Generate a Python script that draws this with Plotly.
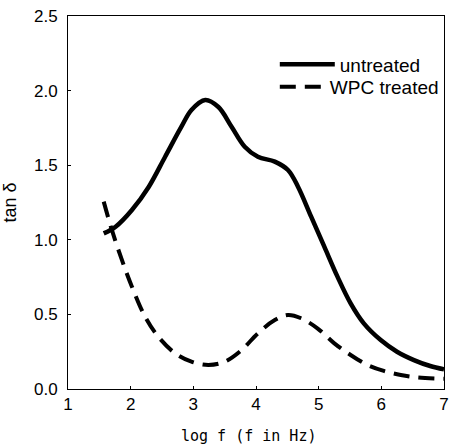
import plotly.graph_objects as go

untreated_x = [1.57, 1.76, 2.02, 2.29, 2.55, 2.81, 2.97, 3.19, 3.40, 3.61, 3.82, 4.03, 4.30, 4.51, 4.67, 4.88, 5.09, 5.30, 5.51, 5.72, 5.99, 6.25, 6.52, 6.78, 7.0]
untreated_y = [1.043, 1.088, 1.20, 1.356, 1.557, 1.758, 1.87, 1.937, 1.89, 1.758, 1.624, 1.557, 1.524, 1.468, 1.356, 1.155, 0.954, 0.753, 0.574, 0.44, 0.328, 0.25, 0.194, 0.154, 0.132]

treated_x = [1.57, 1.70, 1.86, 2.02, 2.23, 2.44, 2.71, 2.97, 3.24, 3.50, 3.77, 4.03, 4.30, 4.51, 4.72, 4.98, 5.25, 5.51, 5.78, 6.04, 6.31, 6.57, 7.0]
treated_y = [1.256, 1.066, 0.865, 0.686, 0.485, 0.351, 0.239, 0.183, 0.161, 0.183, 0.261, 0.373, 0.462, 0.496, 0.474, 0.407, 0.306, 0.228, 0.161, 0.121, 0.094, 0.078, 0.069]

x_ticks = [1, 2, 3, 4, 5, 6, 7]
y_ticks = [0.0, 0.5, 1.0, 1.5, 2.0, 2.5]

fig = go.Figure()
fig.add_trace(go.Scatter(x=untreated_x, y=untreated_y, mode="lines", name="untreated",
                         legend="legend",
                         line=dict(color="black", width=4.5, shape="spline", smoothing=1.0)))
fig.add_trace(go.Scatter(x=treated_x, y=treated_y, mode="lines", name="WPC treated",
                         legend="legend2",
                         line=dict(color="black", width=4, shape="spline", smoothing=1.0, dash="16px,9px")))

fig.update_layout(
    width=449, height=446,
    margin=dict(l=68, r=5, t=16, b=57),
    paper_bgcolor="white", plot_bgcolor="white",
    font=dict(family="Liberation Sans, Arial, sans-serif", color="black", size=17),
    showlegend=True,
    legend=dict(x=0.55, y=0.87, xanchor="left", yanchor="middle", bgcolor="rgba(0,0,0,0)",
                font=dict(size=19), itemwidth=55, borderwidth=0),
    legend2=dict(x=0.55, y=0.81, xanchor="left", yanchor="middle", bgcolor="rgba(0,0,0,0)",
                 font=dict(size=19), itemwidth=45, borderwidth=0),
    xaxis=dict(range=[1, 7], tickvals=x_ticks, ticktext=[str(v) for v in x_ticks],
               ticks="inside", ticklen=3, tickcolor="black", showline=True, linecolor="black",
               linewidth=1, mirror=True, showgrid=False, zeroline=False, automargin=False,
               ticklabeloverflow="allow"),
    yaxis=dict(range=[0, 2.5], tickvals=y_ticks, ticktext=[f"{v:.1f}" for v in y_ticks],
               ticks="inside", ticklen=3, tickcolor="black", showline=True, linecolor="black",
               linewidth=1, mirror=True, showgrid=False, zeroline=False, automargin=False,
               ticklabelstandoff=6, ticklabeloverflow="allow",
               title=dict(text="tan δ", font=dict(size=18), standoff=16)),
    annotations=[dict(text="log f (f in Hz)", xref="paper", yref="paper", x=0.48, y=-0.126,
                      xanchor="center", yanchor="middle", showarrow=False,
                      font=dict(family="DejaVu Sans Mono, monospace", size=15, color="black"))],
)

fig.write_html("out.html", config={"displayModeBar": False},
               post_script="document.body.style.margin='0px';document.body.style.overflow='hidden';")
